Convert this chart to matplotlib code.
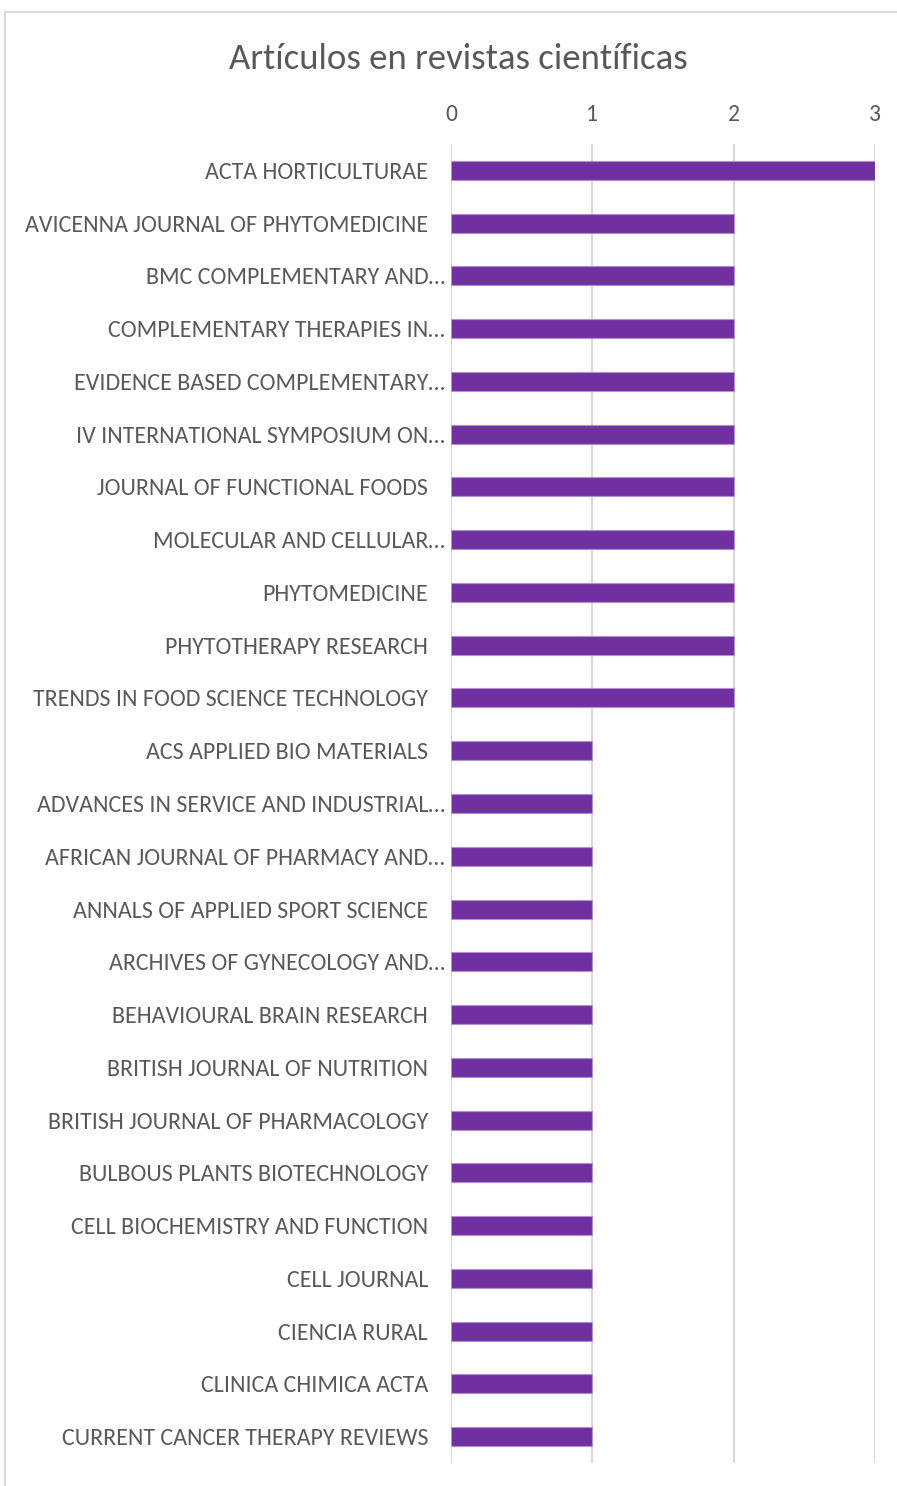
import matplotlib.pyplot as plt
from matplotlib.patches import Rectangle
from matplotlib.transforms import ScaledTranslation

journals = [
    "ACTA HORTICULTURAE",
    "AVICENNA JOURNAL OF PHYTOMEDICINE",
    "BMC COMPLEMENTARY AND…",
    "COMPLEMENTARY THERAPIES IN…",
    "EVIDENCE BASED COMPLEMENTARY…",
    "IV INTERNATIONAL SYMPOSIUM ON…",
    "JOURNAL OF FUNCTIONAL FOODS",
    "MOLECULAR AND CELLULAR…",
    "PHYTOMEDICINE",
    "PHYTOTHERAPY RESEARCH",
    "TRENDS IN FOOD SCIENCE TECHNOLOGY",
    "ACS APPLIED BIO MATERIALS",
    "ADVANCES IN SERVICE AND INDUSTRIAL…",
    "AFRICAN JOURNAL OF PHARMACY AND…",
    "ANNALS OF APPLIED SPORT SCIENCE",
    "ARCHIVES OF GYNECOLOGY AND…",
    "BEHAVIOURAL BRAIN RESEARCH",
    "BRITISH JOURNAL OF NUTRITION",
    "BRITISH JOURNAL OF PHARMACOLOGY",
    "BULBOUS PLANTS BIOTECHNOLOGY",
    "CELL BIOCHEMISTRY AND FUNCTION",
    "CELL JOURNAL",
    "CIENCIA RURAL",
    "CLINICA CHIMICA ACTA",
    "CURRENT CANCER THERAPY REVIEWS",
]
articulos = [3, 2, 2, 2, 2, 2, 2, 2, 2, 2, 2,
             1, 1, 1, 1, 1, 1, 1, 1, 1, 1, 1, 1, 1, 1]
ticks = [0, 1, 2, 3]

# Carlito ~ Calibri metrics
plt.rcParams["font.family"] = ["Carlito", "DejaVu Sans"]

txt = "#595959"
W, H = 897, 1486
fig = plt.figure(figsize=(W / 100, H / 100), dpi=100)

# light frame of the chart area
fig.patches.append(Rectangle((5 / W, -0.01), 1.0, 1 - 12 / H + 0.01,
                             transform=fig.transFigure, fill=False,
                             edgecolor="#d9d9d9", linewidth=1.5))

ax = fig.add_axes([451 / W, 1 - 1463 / H, (875 - 451) / W, (1463 - 144) / H])
y = range(len(journals))
ax.barh(y, articulos, height=0.36, color="#7030a0", edgecolor="#b38fd0", linewidth=0.8, zorder=3)
ax.set_ylim(len(journals) - 0.5, -0.5)
ax.set_xlim(0, 3)
ax.set_xticks(ticks)
ax.xaxis.tick_top()
ax.tick_params(axis="x", length=0, pad=13.5, labelsize=17, labelcolor=txt)
ax.set_yticks(list(y))
ax.set_yticklabels(journals)
ax.tick_params(axis="y", length=0, pad=16.5, labelsize=17.3, labelcolor=txt)
ax.grid(axis="x", color="#d9d9d9", linewidth=1.5, zorder=0)
for s in ax.spines.values():
    s.set_visible(False)

# truncated names sit a little closer to the axis, as in the original
shift = ScaledTranslation(17 / 100, 0, fig.dpi_scale_trans)
for lab in ax.get_yticklabels():
    if lab.get_text().endswith("…"):
        lab.set_transform(lab.get_transform() + shift)

fig.text(458 / W, 1 - 59 / H, "Artículos en revistas científicas", ha="center", va="center",
         fontsize=26.5, color=txt)

fig.savefig("out.png", dpi=100)
